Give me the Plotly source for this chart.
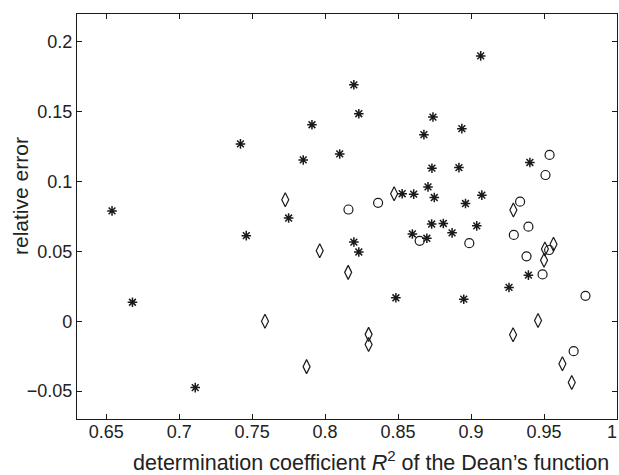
import plotly.graph_objects as go

# Asterisk series
star_x = [0.654, 0.668, 0.711, 0.742, 0.746, 0.775, 0.785, 0.791, 0.810, 0.8197,
          0.8231, 0.8197, 0.8231, 0.8485, 0.8528, 0.8607, 0.8598, 0.8697, 0.8677, 0.8705,
          0.8739, 0.8732, 0.8748, 0.873, 0.881, 0.887, 0.8917, 0.8937, 0.8962, 0.895,
          0.9039, 0.9074, 0.9066, 0.926, 0.9393, 0.9403]
star_y = [0.079, 0.0136, -0.0475, 0.127, 0.0613, 0.0739, 0.1155, 0.1407, 0.1198, 0.1693,
          0.1486, 0.0567, 0.0496, 0.0168, 0.0913, 0.091, 0.0625, 0.0594, 0.1336, 0.0962,
          0.1462, 0.1096, 0.0886, 0.0696, 0.0700, 0.0633, 0.110, 0.1379, 0.0843, 0.0158,
          0.0683, 0.0903, 0.190, 0.0242, 0.033, 0.1137]

# Diamond series
diam_x = [0.7727, 0.7588, 0.7873, 0.7963, 0.8158, 0.8298, 0.8298, 0.8473, 0.929, 0.9288,
          0.9459, 0.950, 0.9506, 0.9565, 0.9626, 0.969]
diam_y = [0.087, 0.0, -0.0325, 0.0505, 0.035, -0.0094, -0.0166, 0.0913, 0.0797, -0.0097,
          0.0005, 0.0436, 0.0517, 0.0551, -0.0304, -0.0439]

# Circle series
circ_x = [0.816, 0.8363, 0.8648, 0.8988, 0.9293, 0.9336, 0.9393, 0.938, 0.949, 0.951,
          0.9538, 0.9535, 0.9703, 0.9784]
circ_y = [0.080, 0.0848, 0.0576, 0.0559, 0.0618, 0.0856, 0.0677, 0.0465, 0.0335, 0.1047,
          0.1191, 0.051, -0.0214, 0.0182]

x_ticks = [0.65, 0.7, 0.75, 0.8, 0.85, 0.9, 0.95, 1.0]
x_tick_text = ["0.65", "0.7", "0.75", "0.8", "0.85", "0.9", "0.95", "1"]
y_ticks = [-0.05, 0, 0.05, 0.1, 0.15, 0.2]
y_tick_text = ["\u22120.05", "0", "0.05", "0.1", "0.15", "0.2"]

FONT = "Liberation Sans, Arial, Helvetica, sans-serif"
INK = "#1a1a1a"

fig = go.Figure()
fig.add_trace(go.Scatter(x=star_x, y=star_y, mode="markers",
                         marker=dict(symbol="asterisk-open", size=8, color=INK,
                                     line=dict(color=INK, width=1.5)),
                         showlegend=False))
fig.add_trace(go.Scatter(x=diam_x, y=diam_y, mode="markers",
                         marker=dict(symbol="diamond-tall-open", size=10, color=INK,
                                     line=dict(color=INK, width=1.2)),
                         showlegend=False))
fig.add_trace(go.Scatter(x=circ_x, y=circ_y, mode="markers",
                         marker=dict(symbol="circle-open", size=9, color=INK,
                                     line=dict(color=INK, width=1.2)),
                         showlegend=False))

axis_common = dict(showline=True, linecolor=INK, linewidth=1.2, mirror="ticks",
                   ticks="inside", ticklen=5, tickwidth=1, tickcolor=INK,
                   showgrid=False, zeroline=False, automargin=False,
                   tickfont=dict(family=FONT, size=18, color="#222"))

# last x tick label ("1") sits at the very edge of the figure; draw it as an annotation
fig.update_xaxes(range=[0.63, 1.0], tickvals=x_ticks, ticklabelstandoff=-4,
                 ticktext=x_tick_text[:-1] + [""], **axis_common)
fig.update_yaxes(range=[-0.07, 0.22], tickvals=y_ticks, ticktext=y_tick_text, **axis_common)

fig.add_annotation(text=x_tick_text[-1], xref="x", x=x_ticks[-1], yref="paper",
                   y=-(432 - 419) / 405, xanchor="right", xshift=2, yanchor="middle",
                   showarrow=False, font=dict(family=FONT, size=18, color="#222"))

fig.add_annotation(text="determination coefficient <i>R</i><sup>2</sup> of the Dean\u2019s function",
                   xref="paper", yref="paper", x=(370.5 - 77) / 540, y=-(461 - 419) / 405,
                   xanchor="center", yanchor="middle", showarrow=False,
                   font=dict(family=FONT, size=21.5, color="#222"))
fig.add_annotation(text="relative error", textangle=-90,
                   xref="paper", yref="paper", x=-(77 - 20) / 540, y=(419 - 196) / 405,
                   xanchor="center", yanchor="middle", showarrow=False,
                   font=dict(family=FONT, size=21, color="#222"))

fig.update_layout(width=619, height=475, margin=dict(l=77, r=2, t=14, b=56),
                  paper_bgcolor="white", plot_bgcolor="white",
                  font=dict(family=FONT, color="#222"))

fig.write_html("out.html")
